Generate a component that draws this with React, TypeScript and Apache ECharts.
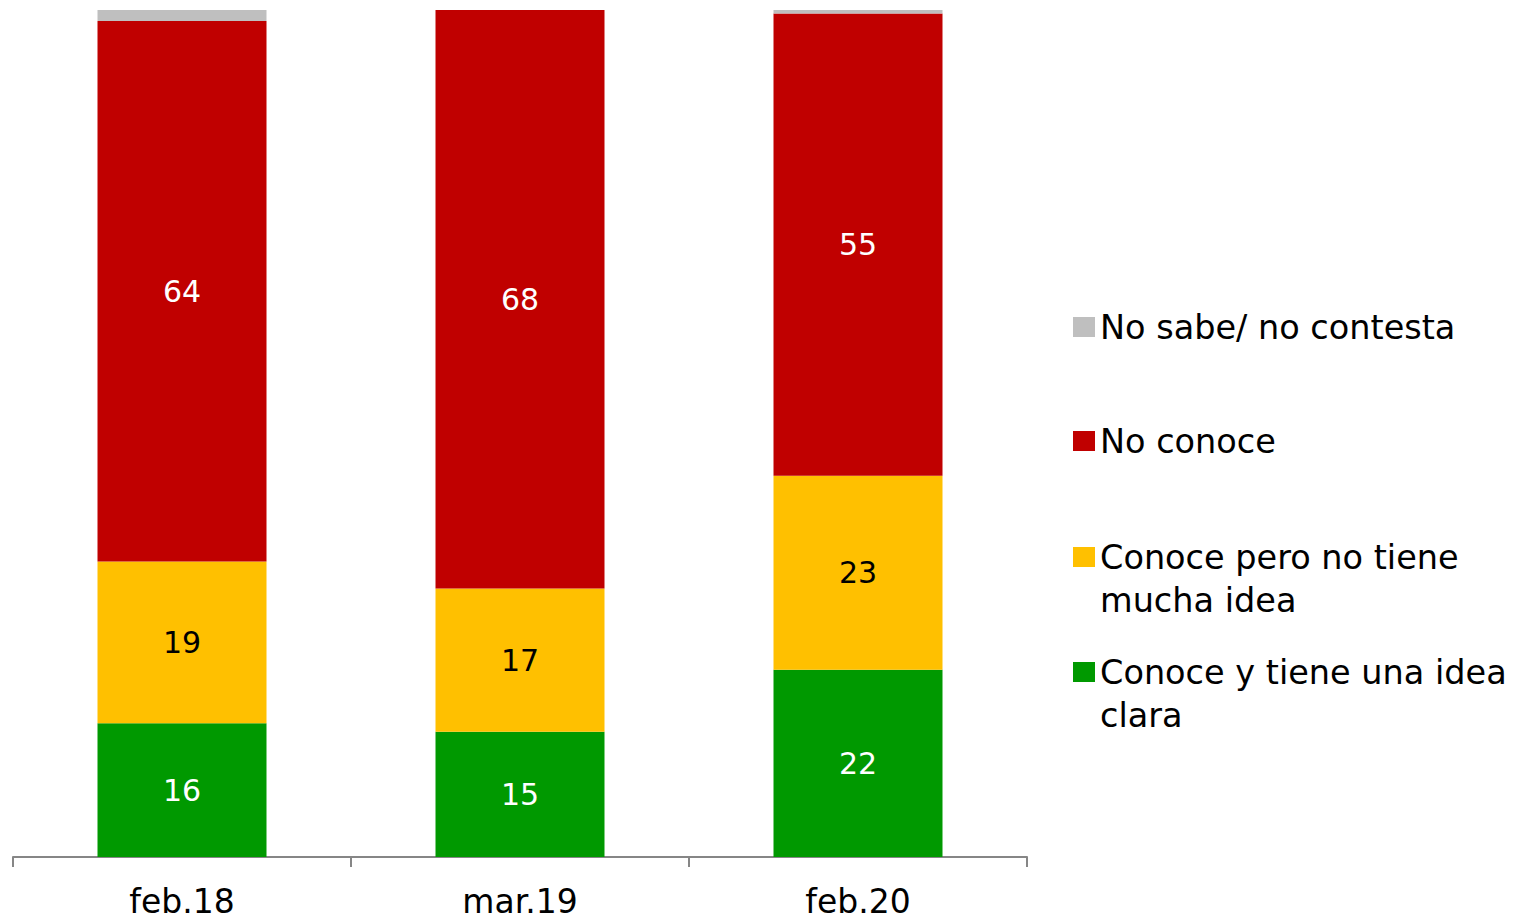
import React, { useEffect, useRef } from "react";
import * as echarts from "echarts";

const categories = ["feb.18", "mar.19", "feb.20"];
const claraValues = [15.8, 14.8, 22.1];
const muchaIdeaValues = [19.1, 16.9, 22.9];
const noConoceValues = [63.8, 68.3, 54.6];
const nsncValues = [1.3, 0, 0.4];

const seriesNames = [
  "Conoce y tiene una idea\nclara",
  "Conoce pero no tiene\nmucha idea",
  "No conoce",
  "No sabe/ no contesta",
];
const colors = ["#009900", "#FFC000", "#C00000", "#BFBFBF"];

const FONT = "DejaVu Sans";

export default function App() {
  const ref = useRef<HTMLDivElement>(null);
  useEffect(() => {
    if (!ref.current) return;
    const chart = echarts.init(ref.current, null, { renderer: "svg" });
    const dataSets = [claraValues, muchaIdeaValues, noConoceValues, nsncValues];
    const labelColors = ["#ffffff", "#000000", "#ffffff", "#000000"];
    const series = dataSets.map((d, i) => ({
      name: seriesNames[i],
      type: "bar",
      stack: "total",
      barWidth: "50%",
      data: d,
      itemStyle: { color: colors[i] },
      label: {
        show: i < 3,
        position: "inside",
        color: labelColors[i],
        fontSize: 30,
        fontFamily: FONT,
        formatter: (p: any) => String(Math.round(p.value)),
      },
    }));
    const legendTops = [
      { name: seriesNames[3], top: 327 - 21.5, two: false },
      { name: seriesNames[2], top: 441 - 21.5, two: false },
      { name: seriesNames[1], top: 557 - 64.5, two: true },
      { name: seriesNames[0], top: 672 - 64.5, two: true },
    ];
    const legend = legendTops.map((l) => ({
      show: true,
      data: [l.name],
      left: 1073,
      top: l.top,
      padding: 0,
      orient: "vertical",
      icon: "rect",
      itemWidth: 22,
      itemHeight: 20,
      selectedMode: false,
      itemStyle: { borderWidth: 0 },
      formatter: (name: string) => (l.two ? "\n" + name : name),
      textStyle: {
        fontFamily: FONT,
        fontSize: 33.5,
        color: "#000000",
        lineHeight: 43,
      },
    }));
    chart.setOption({
      animation: false,
      textStyle: { fontFamily: FONT },
      grid: { left: 13, right: 491, top: 10, bottom: 63, containLabel: false },
      legend,
      xAxis: {
        type: "category",
        data: categories,
        axisLine: { lineStyle: { color: "#868686", width: 2 } },
        axisTick: { show: true, length: 10, lineStyle: { color: "#868686", width: 2 } },
        axisLabel: { color: "#000000", fontSize: 33, fontFamily: FONT, margin: 28 },
      },
      yAxis: {
        type: "value",
        min: 0,
        max: 100,
        show: false,
        splitLine: { show: false },
      },
      series,
    });
    return () => chart.dispose();
  }, []);
  return (
    <div
      ref={ref}
      style={{ position: "fixed", left: 0, top: 0, width: 1518, height: 920, background: "#ffffff" }}
    />
  );
}
